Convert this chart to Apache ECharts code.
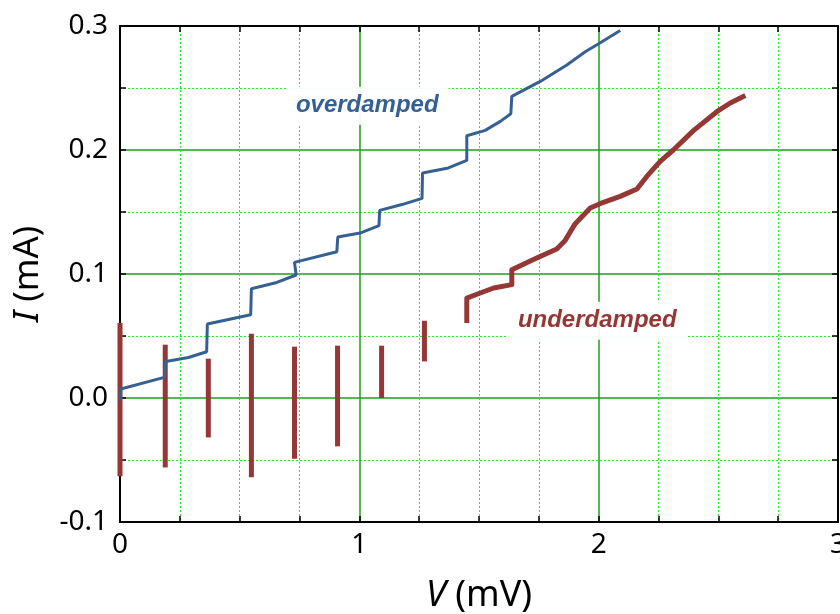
<!DOCTYPE html>
<html>
<head>
<meta charset="utf-8">
<script src="https://cdn.jsdelivr.net/npm/echarts@6/dist/echarts.min.js"></script>
<style>
  html, body { margin: 0; padding: 0; background: #fff; }
  #chart { width: 840px; height: 614px; }
</style>
</head>
<body>
<div id="chart"></div>
<script>
// overdamped I-V curve (blue)
let odV = [0, 0.003, 0.185, 0.191, 0.286, 0.362, 0.365, 0.546, 0.549, 0.655, 0.736, 0.729, 0.906, 0.910, 1.003, 1.082, 1.085, 1.178, 1.262, 1.264, 1.372, 1.449, 1.449, 1.526, 1.589, 1.633, 1.637, 1.756, 1.867, 1.944, 2.0, 2.09];
let odI = [-0.002, 0.0073, 0.0166, 0.0295, 0.0327, 0.0373, 0.0597, 0.0672, 0.0881, 0.0932, 0.0992, 0.1094, 0.118, 0.1298, 0.133, 0.139, 0.1513, 0.156, 0.161, 0.1815, 0.1855, 0.1916, 0.2115, 0.2158, 0.2231, 0.2293, 0.2432, 0.2553, 0.2686, 0.2793, 0.2857, 0.2964];

// underdamped I-V curve (red)
let udV = [1.449, 1.449, 1.505, 1.561, 1.637, 1.637, 1.741, 1.825, 1.860, 1.902, 1.965, 2.005, 2.090, 2.160, 2.201, 2.257, 2.313, 2.397, 2.495, 2.550, 2.613];
let udI = [0.0605, 0.0806, 0.0847, 0.0887, 0.0914, 0.1035, 0.1129, 0.1202, 0.1271, 0.1406, 0.1532, 0.1567, 0.1626, 0.1685, 0.1787, 0.1908, 0.2002, 0.2158, 0.2311, 0.2379, 0.2440];

// underdamped vertical branches
let barV = [0, 0.189, 0.369, 0.549, 0.729, 0.909, 1.093, 1.272];
let barTop = [0.0605, 0.043, 0.0317, 0.0519, 0.0414, 0.0422, 0.0422, 0.0623];
let barBottom = [-0.0632, -0.056, -0.0318, -0.064, -0.049, -0.039, 0.0, 0.0295];

// text labels in the plot
let noteText = ['overdamped', 'underdamped'];
let noteV = [1.033, 1.994];
let noteI = [0.2357, 0.0623];
let noteColor = ['#376092', '#953735'];

let blue = '#376092';
let red = '#953735';
let font = 'Noto Sans';

let myChart = echarts.init(document.getElementById('chart'));

let series = [];
barV.forEach(function (v, i) {
    series.push({
        type: 'line',
        data: [[v, barBottom[i]], [v, barTop[i]]],
        showSymbol: false,
        clip: false,
        silent: true,
        lineStyle: { color: red, width: 5, cap: 'butt' }
    });
});
series.push({
    type: 'line',
    data: udV.map(function (v, i) { return [v, udI[i]]; }),
    showSymbol: false,
    clip: false,
    silent: true,
    lineStyle: { color: red, width: 5, join: 'round' }
});
series.push({
    type: 'line',
    data: odV.map(function (v, i) { return [v, odI[i]]; }),
    showSymbol: false,
    clip: false,
    silent: true,
    lineStyle: { color: blue, width: 3 }
});
noteText.forEach(function (t, i) {
    series.push({
        type: 'scatter',
        data: [[noteV[i], noteI[i]]],
        symbolSize: 0,
        silent: true,
        z: 5,
        itemStyle: { opacity: 1 },
        label: {
            show: true,
            position: 'inside',
            formatter: t,
            opacity: 1,
            color: noteColor[i],
            fontFamily: 'Liberation Sans',
            fontWeight: 'bold',
            fontStyle: 'italic',
            fontSize: 24,
            backgroundColor: 'rgba(255,255,255,0.92)',
            padding: [7, 10, 7, 10]
        }
    });
});

let majorLine = { show: true, lineStyle: { color: '#1e9e1e', width: 1.5, type: 'solid' } };
let minorLine = { show: true, lineStyle: { color: '#22ee22', width: 1, type: [2, 2] } };
let axLine = { show: true, onZero: false, lineStyle: { color: '#000', width: 2 } };
let tick = { show: true, inside: true, length: 6, lineStyle: { color: '#000', width: 1.5 } };

let option = {
    animation: false,
    backgroundColor: '#fff',
    grid: { left: 120, right: 2, top: 26, bottom: 92, outerBoundsMode: 'none' },
    xAxis: [
        {
            type: 'value', min: 0, max: 3, interval: 1, position: 'bottom',
            axisLine: axLine,
            axisTick: tick,
            minorTick: { show: true, splitNumber: 4, length: 6, lineStyle: { color: '#000', width: 1.5 } },
            splitLine: majorLine,
            minorSplitLine: minorLine,
            axisLabel: { color: '#000', fontSize: 28, fontFamily: font, margin: 9 },
            name: '{i|V} (mV)',
            nameLocation: 'middle',
            nameGap: 56,
            nameTextStyle: {
                color: '#000', fontSize: 36, fontFamily: font,
                rich: { i: { fontStyle: 'italic', fontSize: 36, fontFamily: font, color: '#000' } }
            }
        },
        {
            type: 'value', min: 0, max: 3, interval: 1, position: 'top',
            axisLine: axLine,
            axisTick: tick,
            minorTick: { show: true, splitNumber: 4, length: 6, lineStyle: { color: '#000', width: 1.5 } },
            splitLine: { show: false },
            axisLabel: { show: false }
        }
    ],
    yAxis: [
        {
            type: 'value', min: -0.1, max: 0.3, interval: 0.1, position: 'left',
            axisLine: axLine,
            axisTick: tick,
            minorTick: { show: true, splitNumber: 2, length: 6, lineStyle: { color: '#000', width: 1.5 } },
            splitLine: majorLine,
            minorSplitLine: minorLine,
            axisLabel: {
                color: '#000', fontSize: 28, fontFamily: font, margin: 12,
                formatter: function (v) { return v.toFixed(1); }
            },
            name: '{i|I} (mA)',
            nameLocation: 'middle',
            nameGap: 74,
            nameTextStyle: {
                color: '#000', fontSize: 35, fontFamily: font,
                rich: { i: { fontStyle: 'italic', fontSize: 35, fontFamily: font, color: '#000' } }
            }
        },
        {
            type: 'value', min: -0.1, max: 0.3, interval: 0.1, position: 'right',
            axisLine: axLine,
            axisTick: tick,
            minorTick: { show: true, splitNumber: 2, length: 6, lineStyle: { color: '#000', width: 1.5 } },
            splitLine: { show: false },
            axisLabel: { show: false }
        }
    ],
    series: series
};
myChart.setOption(option);
</script>
</body>
</html>
